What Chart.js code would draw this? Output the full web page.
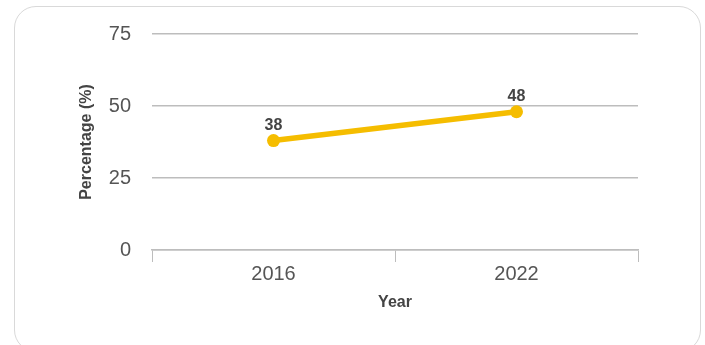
<!DOCTYPE html>
<html>
<head>
<meta charset="utf-8">
<script src="https://cdn.jsdelivr.net/npm/chart.js@4.4.1/dist/chart.umd.min.js"></script>
<style>
  html, body { margin: 0; padding: 0; background: #fff; width: 705px; height: 345px; overflow: hidden; }
  #card { position: absolute; left: 14px; top: 6px; width: 687px; height: 346px; border: 1.5px solid #d9d9d9; border-radius: 22px; box-sizing: border-box; }
  #wrap { position: absolute; left: 0; top: 0; width: 705px; height: 345px; }
</style>
</head>
<body>
<div id="card"></div>
<div id="wrap"><canvas id="c" width="705" height="345"></canvas></div>
<script>
const categories = ['2016', '2022'];
const percentages = [38, 48];
const yTicks = [0, 25, 50, 75];
const xTitle = 'Year';
const yTitle = 'Percentage (%)';

const FONT = "'Liberation Sans', Arial, sans-serif";

const valueLabels = {
  id: 'valueLabels',
  afterDatasetsDraw(chart) {
    const ctx = chart.ctx;
    const meta = chart.getDatasetMeta(0);
    ctx.save();
    ctx.font = "bold 16px " + FONT;
    ctx.fillStyle = '#444444';
    ctx.textAlign = 'center';
    ctx.textBaseline = 'middle';
    meta.data.forEach((pt, i) => {
      ctx.fillText(String(chart.data.datasets[0].data[i]), pt.x, pt.y - 15);
    });
    ctx.restore();
  }
};

new Chart(document.getElementById('c'), {
  type: 'line',
  data: {
    labels: categories,
    datasets: [{
      data: percentages,
      borderColor: '#F5BD00',
      backgroundColor: '#F5BD00',
      borderWidth: 5.5,
      pointRadius: 6.5,
      pointHoverRadius: 6.5,
      pointBackgroundColor: '#F5BD00',
      pointBorderWidth: 0,
      tension: 0,
      fill: false
    }]
  },
  options: {
    responsive: false,
    animation: false,
    devicePixelRatio: 1,
    layout: { padding: { top: 34, right: 67, left: 0, bottom: 0 } },
    plugins: { legend: { display: false }, tooltip: { enabled: false } },
    scales: {
      x: {
        offset: true,
        grid: { offset: true, drawOnChartArea: false, drawTicks: true, tickLength: 12, color: '#bdbdbd', lineWidth: 1 },
        border: { display: true, color: '#bdbdbd', width: 1.5 },
        ticks: { color: '#555555', font: { family: FONT, size: 20 }, padding: 0 },
        title: { display: true, text: xTitle, color: '#444444', font: { family: FONT, size: 16, weight: 'bold' }, padding: { top: 0, bottom: 33 } },
        afterFit(scale) { scale.height = 95; }
      },
      y: {
        min: 0, max: 75,
        afterBuildTicks(scale) { scale.ticks = yTicks.map(v => ({ value: v })); },
        grid: { drawTicks: false, color: '#bdbdbd', lineWidth: 1.5 },
        border: { display: false },
        ticks: { color: '#555555', font: { family: FONT, size: 20 }, padding: 21 },
        title: { display: true, text: yTitle, color: '#444444', font: { family: FONT, size: 16, weight: 'bold' }, padding: { top: 77, bottom: 0 } },
        afterFit(scale) { scale.width = 152; }
      }
    }
  },
  plugins: [valueLabels]
});
</script>
</body>
</html>
